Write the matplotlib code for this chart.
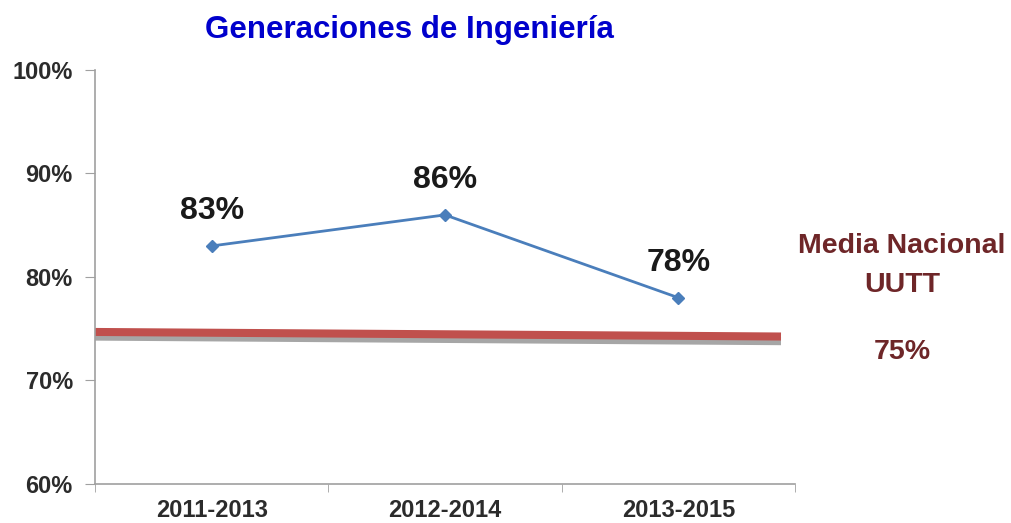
import matplotlib.pyplot as plt
import numpy as np

periods = ['2011-2013', '2012-2014', '2013-2015']
values = [83, 86, 78]
value_labels = ['83%', '86%', '78%']
y_ticks = [60, 70, 80, 90, 100]
y_tick_labels = ['60%', '70%', '80%', '90%', '100%']
media_x = [-0.5, 2.44]
media_y = [74.69, 74.25]

plt.rcParams['font.family'] = ['Liberation Sans', 'DejaVu Sans']

fig = plt.figure(figsize=(10.12, 5.23), dpi=100)
ax = fig.add_axes([95 / 1012, 1 - 484 / 523, (795 - 95) / 1012, (484 - 70) / 523])

x = np.arange(len(periods))

# national mean band: grey shadow under a red line
ax.plot(media_x, [v - 0.45 for v in media_y], color='#A6A6A6', lw=5.8,
        solid_capstyle='butt', zorder=1)
ax.plot(media_x, media_y, color='#C0504D', lw=5.8,
        solid_capstyle='butt', zorder=2)

ax.plot(x, values, color='#4A7EBB', lw=2, marker='D', markersize=6,
        markerfacecolor='#4A7EBB', markeredgecolor='#4A7EBB', zorder=3)
for xi, v, lab in zip(x, values, value_labels):
    ax.annotate(lab, (xi, v), xytext=(0, 25), textcoords='offset points',
                ha='center', va='center', fontsize=23, fontweight='bold',
                color='#1A1A1A')

ax.set_xlim(-0.5, 2.5)
ax.set_ylim(60, 100)
ax.set_yticks(y_ticks)
ax.set_yticklabels(y_tick_labels, fontsize=17, fontweight='bold', color='#2B2B2B')
ax.set_xticks(x)
ax.set_xticklabels(periods, fontsize=17, fontweight='bold', color='#2B2B2B')
ax.set_xticks(np.arange(-0.5, 3, 1), minor=True)
ax.tick_params(axis='x', which='major', length=0, pad=11)
ax.tick_params(axis='x', which='minor', length=6, color='#A0A0A0', direction='out')
ax.tick_params(axis='y', length=7, color='#A0A0A0', pad=9)

for side in ['top', 'right']:
    ax.spines[side].set_visible(False)
for side in ['left', 'bottom']:
    ax.spines[side].set_color('#A0A0A0')
    ax.spines[side].set_linewidth(1.2)

fig.text(409 / 1012, 1 - 30 / 523, 'Generaciones de Ingeniería', ha='center',
         va='center', fontsize=22.5, fontweight='bold', color='#0000CC')

brown = '#6E2628'
fig.text(902 / 1012, 1 - 246 / 523, 'Media Nacional', ha='center', va='center',
         fontsize=20.5, fontweight='bold', color=brown)
fig.text(902 / 1012, 1 - 285 / 523, 'UUTT', ha='center', va='center',
         fontsize=20.5, fontweight='bold', color=brown)
fig.text(902 / 1012, 1 - 352 / 523, '75%', ha='center', va='center',
         fontsize=20.5, fontweight='bold', color=brown)

fig.savefig('out.png', dpi=100)
